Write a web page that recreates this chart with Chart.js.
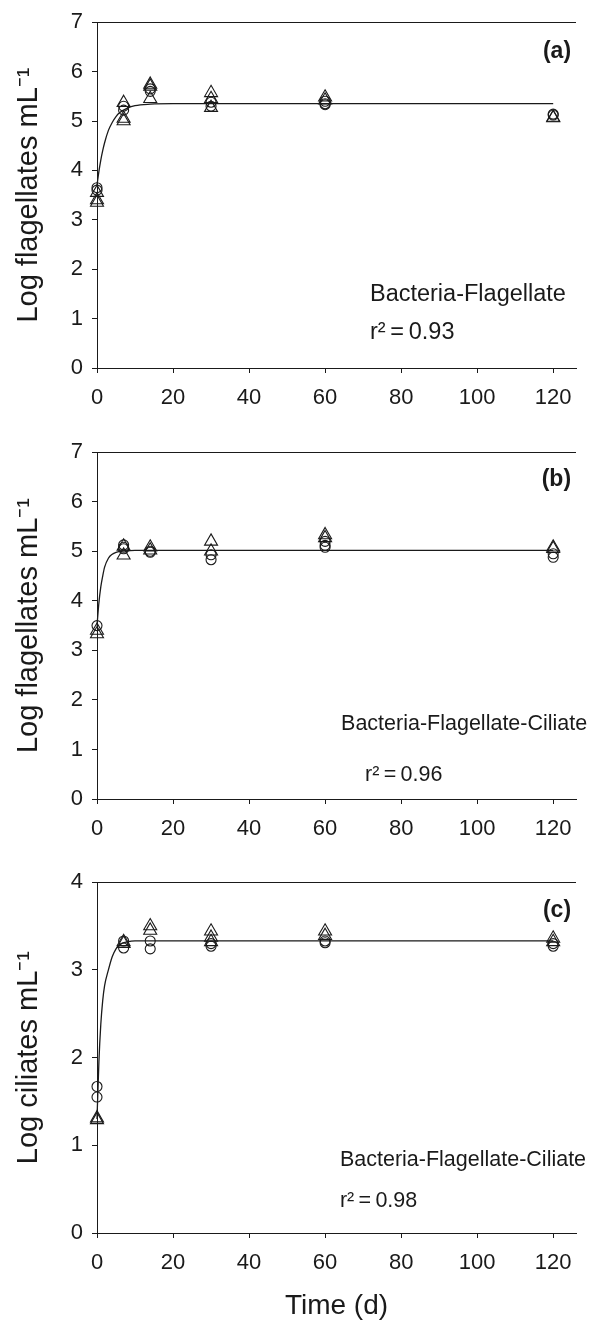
<!DOCTYPE html>
<html>
<head>
<meta charset="utf-8">
<script src="https://cdn.jsdelivr.net/npm/chart.js@4.4.1/dist/chart.umd.min.js"></script>
<style>
  html, body { margin: 0; padding: 0; background: #fff; }
  #wrap { position: relative; width: 592px; height: 1327px; }
  canvas { position: absolute; left: 0; }
</style>
</head>
<body>
<div id="wrap">
  <canvas id="chartA" width="592" height="430" style="top:0px"></canvas>
  <canvas id="chartB" width="592" height="430" style="top:430px"></canvas>
  <canvas id="chartC" width="592" height="467" style="top:860px"></canvas>
</div>
<script>
// sampling days and tick labels
const days = [0, 7, 14, 30, 60, 120];
const xTicks = [0, 20, 40, 60, 80, 100, 120];
const flagYTicks = [0, 1, 2, 3, 4, 5, 6, 7];
const ciliYTicks = [0, 1, 2, 3, 4];

// (a) Bacteria-Flagellate : replicates per day
const aCircles   = [[3.65, 3.6], [5.3, 5.22], [5.65, 5.6], [5.38, 5.3], [5.4, 5.35, 5.33], [5.14, 5.12]];
const aTriangles = [[3.55, 3.4, 3.35], [5.37, 5.05, 5.0], [5.74, 5.7, 5.45], [5.57, 5.45, 5.27], [5.48, 5.42], [5.07, 5.06]];

// (b) Bacteria-Flagellate-Ciliate, flagellates
const bCircles   = [[3.5], [5.13, 5.08, 5.05], [5.0, 4.98], [4.93, 4.83], [5.2, 5.12, 5.08], [4.95, 4.88]];
const bTriangles = [[3.4, 3.33], [5.1, 4.92], [5.08, 5.02], [5.2, 5.0], [5.33, 5.27], [5.08, 5.05]];

// (c) Bacteria-Flagellate-Ciliate, ciliates
const cCircles   = [[1.67, 1.55], [3.33, 3.25], [3.33, 3.24], [3.3, 3.27], [3.33, 3.31], [3.3, 3.27]];
const cTriangles = [[1.31, 1.29], [3.32, 3.3], [3.5, 3.45], [3.44, 3.37, 3.32], [3.44, 3.39], [3.36, 3.32]];

// fitted curves
const fitDays = [0, 0.5, 1, 1.5, 2, 3, 4, 5, 6, 8, 10, 14, 20, 120];
const aFit = [3.7, 3.98, 4.21, 4.4, 4.56, 4.81, 4.97, 5.09, 5.17, 5.26, 5.31, 5.34, 5.35, 5.35];
const bFit = [3.5, 3.96, 4.28, 4.5, 4.68, 4.86, 4.94, 4.98, 5.0, 5.01, 5.02, 5.02, 5.02, 5.02];
const cFit = [1.3, 1.95, 2.38, 2.65, 2.82, 3.0, 3.15, 3.24, 3.29, 3.32, 3.33, 3.33, 3.33, 3.33];

const FONT = "'Liberation Sans', Arial, sans-serif";
const INK = '#1a1a1a';

function toPoints(groups) {
  const pts = [];
  groups.forEach((vals, i) => vals.forEach(v => pts.push({ x: days[i], y: v })));
  return pts;
}

const extras = {
  id: 'extras',
  afterDraw(chart, args, opts) {
    const { ctx, chartArea, scales } = chart;
    ctx.save();
    // top frame line
    ctx.strokeStyle = INK;
    ctx.lineWidth = 1;
    ctx.beginPath();
    ctx.moveTo(chartArea.left, Math.round(chartArea.top) + 0.5);
    ctx.lineTo(chartArea.right, Math.round(chartArea.top) + 0.5);
    ctx.stroke();
    ctx.fillStyle = INK;
    ctx.textBaseline = 'alphabetic';
    (opts.notes || []).forEach(n => {
      ctx.font = n.font;
      ctx.textAlign = n.align || 'left';
      ctx.fillText(n.text, scales.x.getPixelForValue(n.x), scales.y.getPixelForValue(n.y));
    });
    ctx.restore();
  }
};

function makeChart(id, circles, triangles, fit, yMax, yTicks, yTitle, padTop, xAxisH, showTime, notes) {
  new Chart(document.getElementById(id), {
    type: 'scatter',
    data: {
      datasets: [
        {
          data: fitDays.map((d, i) => ({ x: d, y: fit[i] })),
          showLine: true,
          cubicInterpolationMode: 'monotone',
          borderColor: INK,
          borderWidth: 1.3,
          pointRadius: 0,
          clip: false
        },
        {
          data: toPoints(circles),
          pointStyle: 'circle',
          pointRadius: 5,
          borderColor: INK,
          borderWidth: 1.1,
          backgroundColor: 'rgba(0,0,0,0)',
          clip: false
        },
        {
          data: toPoints(triangles),
          pointStyle: 'triangle',
          pointRadius: 7.5,
          borderColor: INK,
          borderWidth: 1.1,
          backgroundColor: 'rgba(0,0,0,0)',
          clip: false
        }
      ]
    },
    options: {
      responsive: false,
      animation: false,
      devicePixelRatio: 1,
      layout: { padding: { top: padTop, right: 16, left: 0, bottom: 0 } },
      plugins: {
        legend: { display: false },
        tooltip: { enabled: false },
        extras: { notes: notes }
      },
      scales: {
        x: {
          type: 'linear',
          min: 0,
          max: 126,
          afterBuildTicks: s => { s.ticks = xTicks.map(v => ({ value: v })); },
          afterFit: s => { s.height = xAxisH; },
          grid: { drawOnChartArea: false, drawTicks: true, tickLength: 5, color: INK },
          border: { color: INK, width: 1 },
          ticks: { color: INK, font: { family: FONT, size: 22 }, padding: 12, maxRotation: 0, autoSkip: false },
          title: { display: showTime, text: 'Time (d)', color: INK, font: { family: FONT, size: 28 }, padding: { bottom: 4 } }
        },
        y: {
          type: 'linear',
          min: 0,
          max: yMax,
          afterBuildTicks: s => { s.ticks = yTicks.map(v => ({ value: v })); },
          afterFit: s => { s.width = 97; },
          grid: { drawOnChartArea: false, drawTicks: true, tickLength: 5, color: INK },
          border: { color: INK, width: 1 },
          ticks: { color: INK, font: { family: FONT, size: 22 }, padding: 9 },
          title: { display: true, text: yTitle, color: INK, font: { family: FONT, size: 29 }, padding: { top: 12 } }
        }
      }
    },
    plugins: [extras]
  });
}

makeChart('chartA', aCircles, aTriangles, aFit, 7, flagYTicks, 'Log flagellates mL\u207B\u00B9', 16, 62, false, [
  { text: 'Bacteria-Flagellate', x: 71.8, y: 1.35, font: '23.5px ' + FONT },
  { text: 'r\u00B2\u2009=\u20090.93', x: 71.8, y: 0.58, font: '23.5px ' + FONT },
  { text: '(a)', x: 124.7, y: 6.28, font: 'bold 23px ' + FONT, align: 'right' }
]);

makeChart('chartB', bCircles, bTriangles, bFit, 7, flagYTicks, 'Log flagellates mL\u207B\u00B9', 19, 61, false, [
  { text: 'Bacteria-Flagellate-Ciliate', x: 64.2, y: 1.39, font: '21.5px ' + FONT },
  { text: 'r\u00B2\u2009=\u20090.96', x: 70.5, y: 0.37, font: '21.5px ' + FONT },
  { text: '(b)', x: 124.7, y: 6.31, font: 'bold 23px ' + FONT, align: 'right' }
]);

makeChart('chartC', cCircles, cTriangles, cFit, 4, ciliYTicks, 'Log ciliates mL\u207B\u00B9', 22, 94, true, [
  { text: 'Bacteria-Flagellate-Ciliate', x: 63.9, y: 0.76, font: '21.5px ' + FONT },
  { text: 'r\u00B2\u2009=\u20090.98', x: 63.9, y: 0.30, font: '21.5px ' + FONT },
  { text: '(c)', x: 124.7, y: 3.6, font: 'bold 23px ' + FONT, align: 'right' }
]);
</script>
</body>
</html>
